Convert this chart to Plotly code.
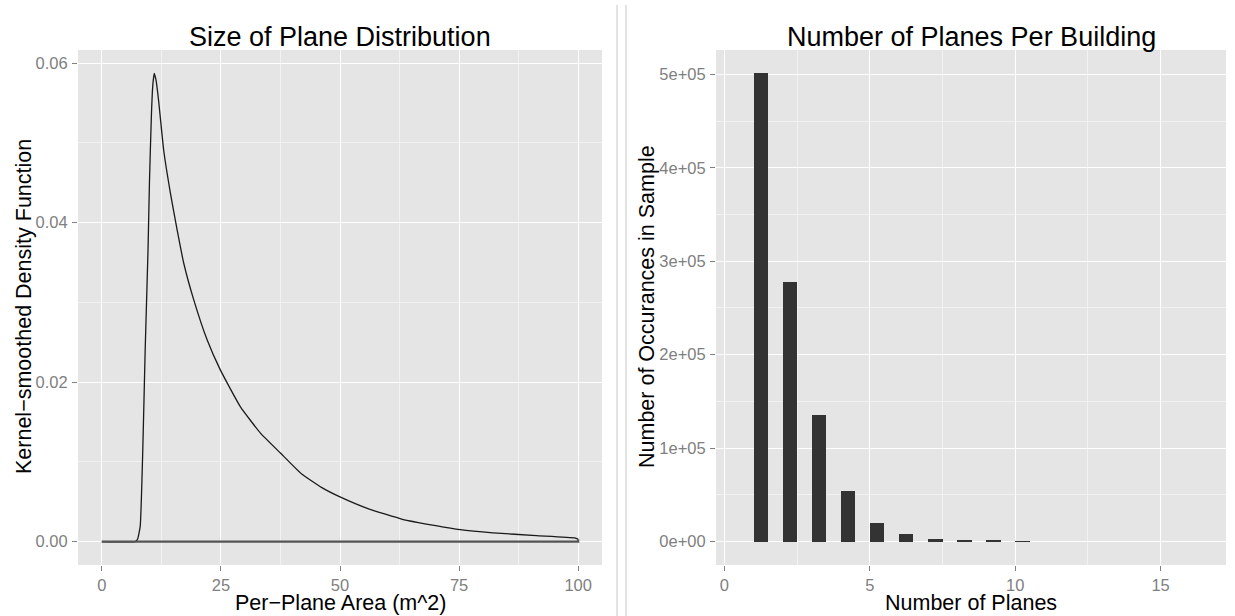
import plotly.graph_objects as go

# ---- Data: left panel (kernel density of per-plane area) ----
area_x = [0, 7.0, 7.5, 8.06, 8.6, 9.1, 9.7, 10.0, 10.4, 10.7, 11.0, 11.4, 11.9, 13.0, 14.4,
          15.8, 17.2, 19.3, 22.1, 24.9, 29.1, 33.3, 37.5, 41.9, 46.1, 50, 56, 63.1,
          70.1, 75.2, 82.1, 91.2, 99.3, 100]
density = [0, 0, 0.0003, 0.0019, 0.0115, 0.024, 0.0366, 0.045, 0.0533, 0.0572, 0.0587,
           0.0578, 0.0554, 0.049, 0.0437, 0.0391, 0.0349, 0.0303, 0.0253, 0.0215,
           0.0169, 0.0136, 0.0111, 0.0085, 0.0068, 0.0056, 0.0041, 0.0028, 0.0020,
           0.0015, 0.0011, 0.00075, 0.00046, 0.0003]

# ---- Data: right panel (histogram of planes per building, binwidth 0.5) ----
bin_start = [1, 2, 3, 4, 5, 6, 7, 8, 9, 10]
bin_width = 0.5
counts = [501000, 278000, 136000, 54000, 20000, 7800, 2700, 1300, 700, 400]

left_xticks = [0, 25, 50, 75, 100]
left_yticks = [0.00, 0.02, 0.04, 0.06]
right_xticks = [0, 5, 10, 15]
right_yticks = [0, 100000, 200000, 300000, 400000, 500000]

W, H = 1235, 616
FONT = "Liberation Sans, Arial, Helvetica, sans-serif"
TICKCOL = "#7f7f7f"
BG = "#e5e5e5"

fig = go.Figure()

# density outline (curve)
fig.add_trace(go.Scatter(x=area_x, y=density, mode="lines",
                         line=dict(color="#1a1a1a", width=1.3, shape="spline", smoothing=0.4),
                         xaxis="x", yaxis="y", showlegend=False, hoverinfo="skip"))
# polygon closure back along the baseline
fig.add_trace(go.Scatter(x=[area_x[-1], area_x[-1], area_x[0]],
                         y=[density[-1], 0, 0], mode="lines",
                         line=dict(color="#555555", width=2.2),
                         xaxis="x", yaxis="y", showlegend=False, hoverinfo="skip"))

# histogram bars
fig.add_trace(go.Bar(x=[b + bin_width / 2 for b in bin_start], y=counts,
                     width=[bin_width] * len(bin_start),
                     marker=dict(color="#333333", line=dict(width=0)),
                     xaxis="x2", yaxis="y2", showlegend=False, hoverinfo="skip"))

ymax_l = max(density)
ymax_r = max(counts)

axis_common = dict(showgrid=True, gridcolor="#ffffff", gridwidth=1.1,
                   zeroline=False, showline=False, ticks="outside", ticklen=5,
                   tickwidth=1, tickcolor=TICKCOL,
                   tickfont=dict(family=FONT, size=16.5, color=TICKCOL))

fig.update_layout(
    width=W, height=H,
    margin=dict(l=0, r=0, t=0, b=0),
    paper_bgcolor="white", plot_bgcolor=BG,
    bargap=0,
    xaxis=dict(domain=[78 / W, 602 / W], anchor="y",
               range=[-5, 105], tickmode="array", tickvals=left_xticks,
               ticktext=[str(v) for v in left_xticks],
               minor=dict(dtick=12.5, tick0=0, showgrid=True, gridcolor="#f2f2f2",
                          gridwidth=0.6, ticks=""),
               **axis_common),
    yaxis=dict(domain=[(H - 565) / H, (H - 50) / H], anchor="x",
               range=[-0.05 * ymax_l, 1.05 * ymax_l],
               tickmode="array", tickvals=left_yticks,
               ticktext=[f"{v:.2f}" for v in left_yticks],
               minor=dict(tickmode="array",
                          tickvals=[0.01, 0.03, 0.05],
                          showgrid=True, gridcolor="#f2f2f2", gridwidth=0.6, ticks=""),
               ticklabelstandoff=1,
               **axis_common),
    xaxis2=dict(domain=[716 / W, 1226 / W], anchor="y2",
                range=[-0.29, 17.25], tickmode="array", tickvals=right_xticks,
                ticktext=[str(v) for v in right_xticks],
                minor=dict(tickmode="array", tickvals=[2.5, 7.5, 12.5],
                           showgrid=True, gridcolor="#f2f2f2", gridwidth=0.6, ticks=""),
                **axis_common),
    yaxis2=dict(domain=[(H - 565) / H, (H - 50) / H], anchor="x2",
                range=[-0.05 * ymax_r, 1.05 * ymax_r],
                tickmode="array", tickvals=right_yticks,
                ticktext=[f"{v:.0e}" for v in right_yticks],
                minor=dict(tickmode="array",
                           tickvals=[50000, 150000, 250000, 350000, 450000],
                           showgrid=True, gridcolor="#f2f2f2", gridwidth=0.6, ticks=""),
                ticklabelstandoff=1,
                **axis_common),
)

def ann(text, px, py, size, angle=0):
    fig.add_annotation(text=text, x=px / W, y=1 - py / H, xref="paper", yref="paper",
                       showarrow=False, textangle=angle, xanchor="center", yanchor="middle",
                       borderpad=0,
                       font=dict(family=FONT, size=size, color="#000000"))

ann("Size of Plane Distribution", 340, 37, 27)
ann("Number of Planes Per Building", 971, 37, 27)
ann("Per\u2212Plane Area (m^2)", 340, 603, 21.5)
ann("Number of Planes", 971, 603, 21.5)
ann("Kernel\u2212smoothed Density Function", 24, 307, 21.5, -90)
ann("Number of Occurances in Sample", 647, 307, 21.5, -90)

# divider lines between the two panels
for xv in (617, 626):
    fig.add_shape(type="line", xref="paper", yref="paper",
                  x0=xv / W, x1=xv / W, y0=0, y1=1 - 5 / H,
                  line=dict(color="#c8c8c8", width=1))

fig.write_html("out.html", config={"displayModeBar": False},
               post_script="document.body.style.margin='0px';document.body.style.padding='0px';")
